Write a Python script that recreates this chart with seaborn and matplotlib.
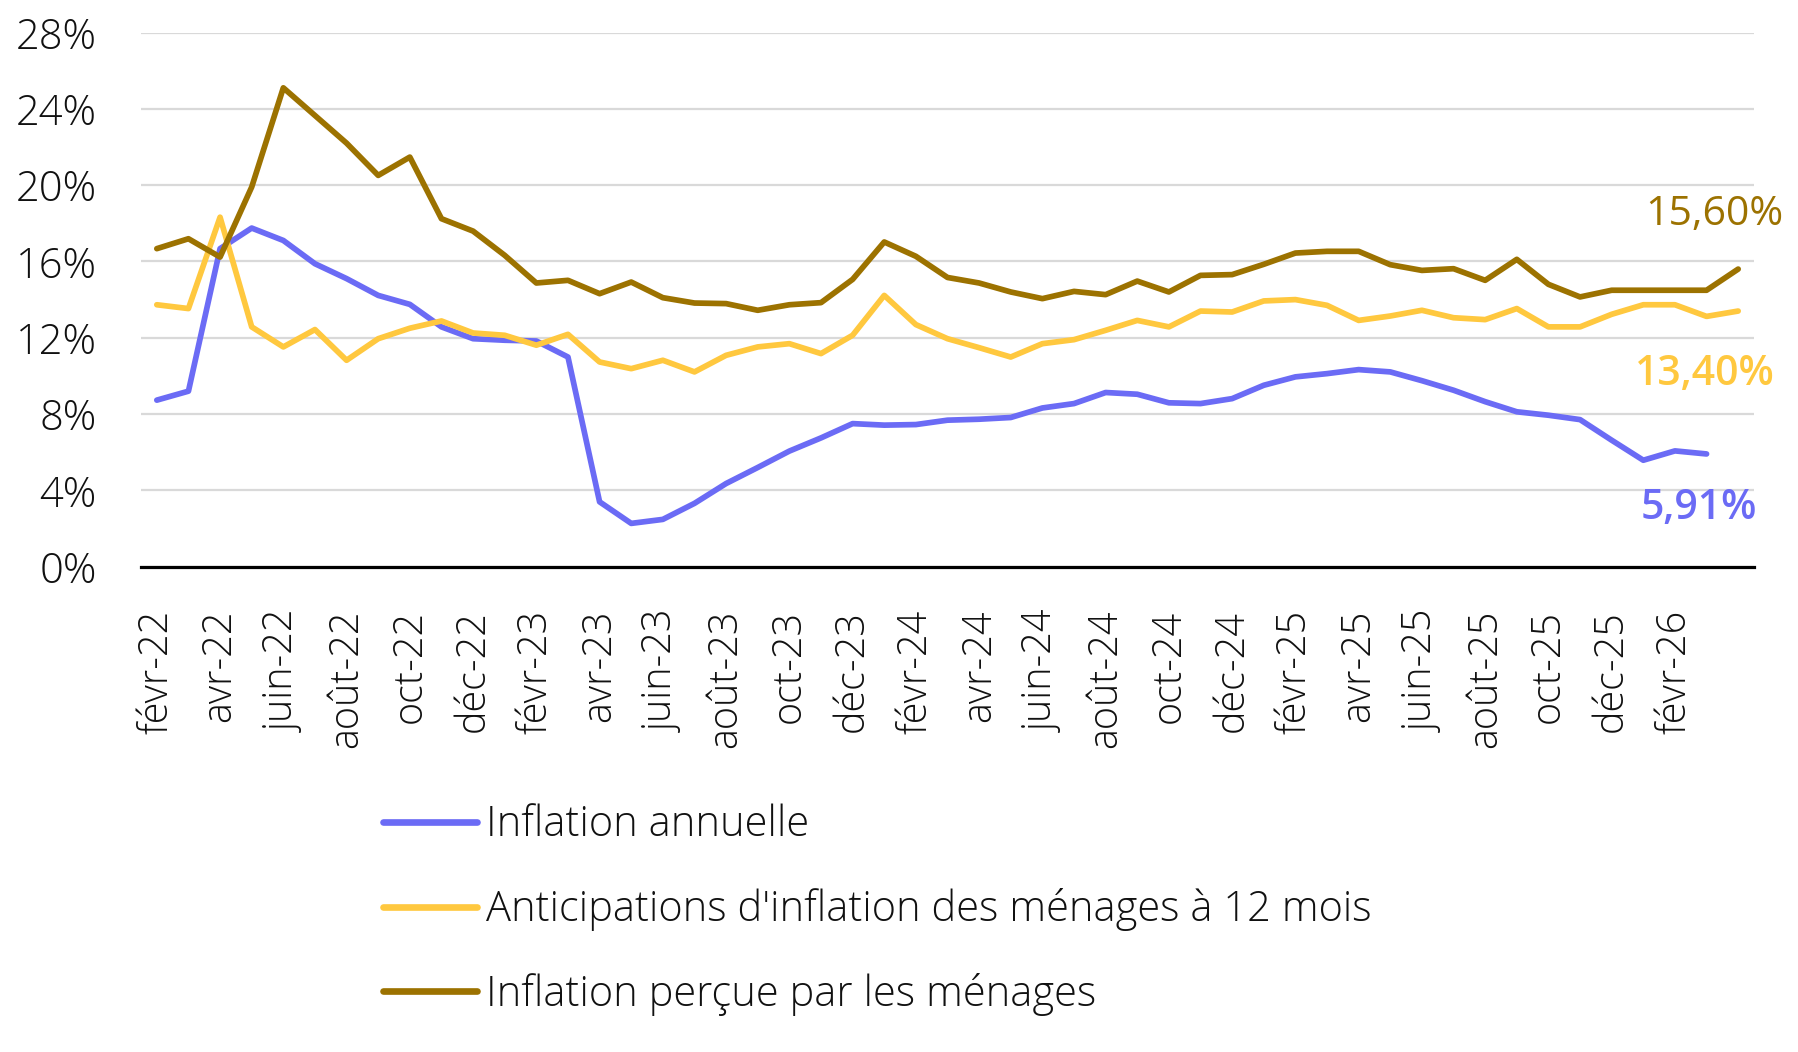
import matplotlib
matplotlib.use("Agg")
import matplotlib.pyplot as plt
import seaborn as sns
import pandas as pd
import numpy as np

# ---- data ----
series_names = ["Inflation annuelle",
                "Anticipations d'inflation des ménages à 12 mois",
                "Inflation perçue par les ménages"]

inflation_annuelle = [8.73, 9.20, 16.67, 17.75, 17.10, 15.88, 15.10, 14.22, 13.75, 12.57,
                      11.95, 11.87, 11.83, 10.99, 3.40, 2.27, 2.48, 3.32, 4.36, 5.20,
                      6.06, 6.75, 7.50, 7.42, 7.45, 7.68, 7.73, 7.82, 8.32, 8.55,
                      9.13, 9.04, 8.59, 8.55, 8.81, 9.51, 9.95, 10.12, 10.33, 10.21,
                      9.75, 9.25, 8.65, 8.12, 7.94, 7.71, 6.63, 5.58, 6.07, 5.91]

anticipations = [13.73, 13.53, 18.32, 12.57, 11.52, 12.43, 10.82, 11.95, 12.50, 12.88,
                 12.25, 12.13, 11.61, 12.18, 10.73, 10.38, 10.82, 10.21, 11.08, 11.52,
                 11.69, 11.17, 12.13, 14.22, 12.69, 11.95, 11.48, 10.99, 11.69, 11.90,
                 12.39, 12.91, 12.57, 13.40, 13.35, 13.93, 14.00, 13.70, 12.91, 13.14,
                 13.44, 13.05, 12.95, 13.53, 12.57, 12.57, 13.23, 13.73, 13.73, 13.12, 13.40]

inflation_percue = [16.67, 17.19, 16.23, 19.90, 25.10, 23.65, 22.20, 20.51, 21.47, 18.24,
                    17.59, 16.32, 14.87, 15.01, 14.31, 14.92, 14.10, 13.82, 13.79, 13.44,
                    13.73, 13.84, 15.06, 17.02, 16.27, 15.16, 14.87, 14.40, 14.05, 14.43,
                    14.26, 14.97, 14.40, 15.27, 15.31, 15.85, 16.44, 16.53, 16.53, 15.83,
                    15.53, 15.62, 15.01, 16.11, 14.80, 14.14, 14.49, 14.49, 14.49, 14.49, 15.60]

tick_labels = ["févr-22", "avr-22", "juin-22", "août-22", "oct-22", "déc-22",
               "févr-23", "avr-23", "juin-23", "août-23", "oct-23", "déc-23",
               "févr-24", "avr-24", "juin-24", "août-24", "oct-24", "déc-24",
               "févr-25", "avr-25", "juin-25", "août-25", "oct-25", "déc-25",
               "févr-26"]

end_labels = ["5,91%", "13,40%", "15,60%"]

colors = ["#6B6BF5", "#FFC83F", "#9C7200"]

# ---- long-form table ----
rows = []
for name, vals in zip(series_names, [inflation_annuelle, anticipations, inflation_percue]):
    for i, v in enumerate(vals):
        rows.append({"mois": i, "valeur": v, "serie": name})
df = pd.DataFrame(rows)

# ---- figure ----
sns.set_theme(style="white")
plt.rcParams['font.family'] = ['Open Sans', 'DejaVu Sans']

W, H = 1799, 1052
fig = plt.figure(figsize=(W / 100, H / 100), dpi=100)
ax = fig.add_axes([141 / W, 1 - 566.7 / H, (1754 - 141) / W, (566.7 - 32.5) / H])

sns.lineplot(data=df, x="mois", y="valeur", hue="serie", hue_order=series_names,
             palette=colors, linewidth=4.1, ax=ax, sort=False, legend=True)

ax.set_xlim(-0.5, 50.5)
ax.set_ylim(0, 28)
ax.set_yticks(np.arange(0, 29, 4))
ax.set_yticklabels([f"{int(t)}%" for t in np.arange(0, 29, 4)])
ax.set_xticks(np.arange(0, 2 * len(tick_labels), 2))
ax.set_xticklabels(tick_labels, rotation=90)
ax.set_xlabel("")
ax.set_ylabel("")

ax.yaxis.grid(True, color="#d9d9d9", linewidth=1.6)
ax.xaxis.grid(False)
ax.set_axisbelow(True)
for s in ["top", "left", "right"]:
    ax.spines[s].set_visible(False)
ax.spines["bottom"].set_color("black")
ax.spines["bottom"].set_linewidth(2.3)
ax.tick_params(axis="both", length=0)
ax.tick_params(axis="y", pad=32, labelsize=30, labelcolor="#111111")
ax.tick_params(axis="x", pad=31, labelsize=28.5, labelcolor="#111111")
for lab in ax.get_yticklabels() + ax.get_xticklabels():
    lab.set_fontweight("light")

# end annotations
ann_pos = [(46.9, 3.1, "semibold"), (46.75, 10.1, "semibold"), (47.05, 18.45, "normal")]
for (x, y, w), txt, c in zip(ann_pos, end_labels, colors):
    ax.text(x, y, txt, color=c, fontsize=29.5, fontweight=w, ha="left", va="center",
            clip_on=False)

# legend below
handles, labels = ax.get_legend_handles_labels()
ax.get_legend().remove()
for h in handles:
    h.set_linewidth(4.8)
    h.set_solid_capstyle("round")
leg = fig.legend(handles, labels, loc="upper left", bbox_to_anchor=(383 / W, 1 - 804 / H),
                 frameon=False, fontsize=30, handlelength=2.25, handletextpad=0.22,
                 labelspacing=1.0, borderpad=0, borderaxespad=0)
for t in leg.get_texts():
    t.set_color("#111111")
    t.set_fontweight("light")

fig.savefig("out.png", dpi=100)
